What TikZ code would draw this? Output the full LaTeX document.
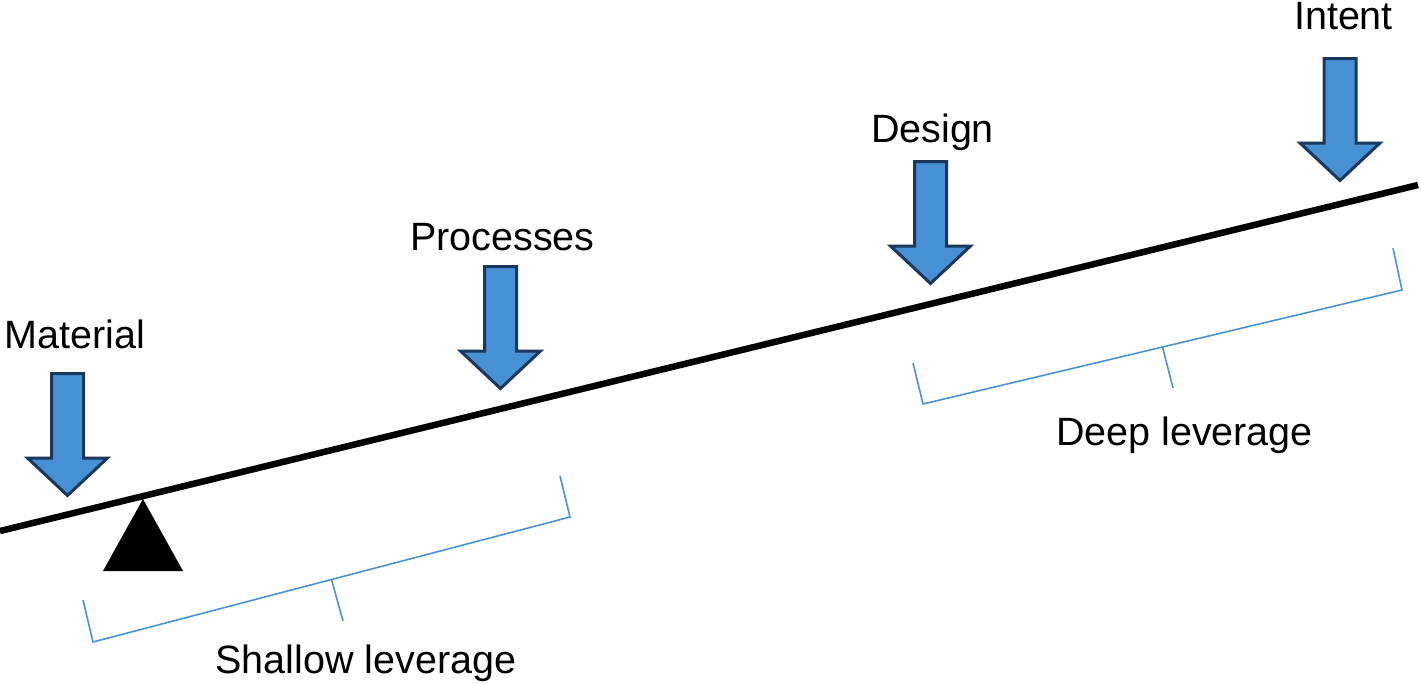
\documentclass[tikz,border=0pt]{standalone}
\usepackage{fontspec}
\setmainfont{Liberation Sans}
\usetikzlibrary{calc}
\definecolor{arrowfill}{RGB}{72,144,212}
\definecolor{arrowedge}{RGB}{26,56,92}
\definecolor{bracketblue}{RGB}{74,146,212}
\newcommand\forcedown[3]{% #1 name, #2 centre x, #3 top y
  \draw[forcearrow] (#2-16,#3+1.5) -- (#2+16,#3+1.5) -- (#2+16,#3+86)
    -- (#2+40,#3+86) -- (#2,#3+123.5) -- (#2-40,#3+86) -- (#2-16,#3+86) -- cycle;
  \coordinate (#1) at (#2,#3+123.5);}
\begin{document}
\begin{tikzpicture}[x=1pt,y=-1pt,
  lbl/.style={font=\fontsize{39.5}{47}\selectfont, inner sep=0pt, anchor=base},
  forcearrow/.style={fill=arrowfill, draw=arrowedge, line width=3pt, line join=miter},
  bracketline/.style={draw=bracketblue, line width=1.6pt, line join=miter},
  beamline/.style={line width=6.5pt}]
\useasboundingbox (0,0) rectangle (1421,683);

% beam
\coordinate (beamL) at (0,531);
\coordinate (beamR) at (1418,185);
\draw[beamline] (beamL) -- (beamR);

% fulcrum
\coordinate (fA) at (143,499);
\coordinate (fB) at (183,571);
\coordinate (fC) at (103,571);
\fill (fA) -- (fB) -- (fC) -- cycle;

% force arrows
\forcedown{matTip}{67.5}{372}
\forcedown{procTip}{500.5}{265}
\forcedown{desTip}{930.5}{160}
\forcedown{intTip}{1340}{57}

% labels
\node[lbl] (mat)  at (75,348)    {Material};
\node[lbl] (proc) at (502.5,250) {Processes};
\node[lbl] (des)  at (932.5,142) {Design};
\node[lbl] (int)  at (1343.5,29.5) {Intent};

% shallow bracket
\coordinate (s1) at (83,600);
\coordinate (s2) at (93,642);
\coordinate (s3) at (570,517);
\coordinate (s4) at (560,476);
\coordinate (sm) at (343,621);
\draw[bracketline] (s1) -- (s2) -- (s3) -- (s4);
\draw[bracketline] ($(s2)!0.5!(s3)$) -- (sm);
\node[lbl] (shallow) at (366,673) {Shallow leverage};

% deep bracket
\coordinate (d1) at (913,363);
\coordinate (d2) at (923,404);
\coordinate (d3) at (1402,290);
\coordinate (d4) at (1393,248);
\coordinate (dm) at (1173,388);
\draw[bracketline] (d1) -- (d2) -- (d3) -- (d4);
\draw[bracketline] ($(d2)!0.5!(d3)$) -- (dm);
\node[lbl] (deep) at (1184.5,445) {Deep leverage};
\end{tikzpicture}
\end{document}
